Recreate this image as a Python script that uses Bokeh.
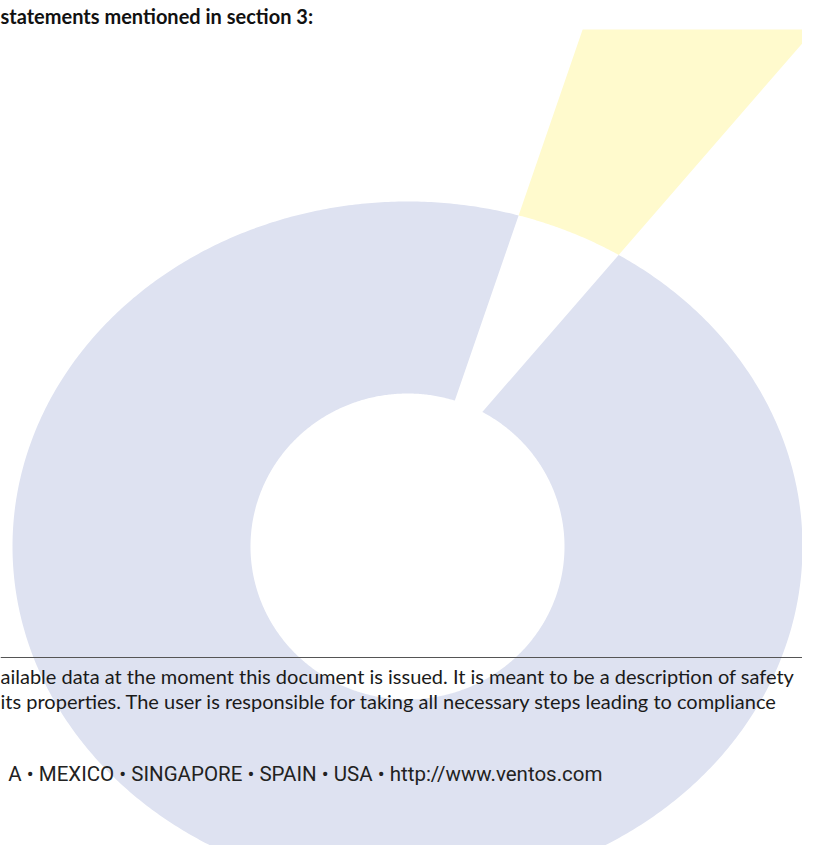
import numpy as np
from bokeh.plotting import figure
from bokeh.models import Range1d, Span, Title
from bokeh.core.properties import value
from bokeh.embed import file_html
from bokeh.resources import INLINE

# ---- data ----
slice_labels = ["Main share", "Highlighted share"]
slice_values = [93.9, 6.1]            # percent
slice_colors = ["#dee2f1", "#fffacd"]
highlight_start_deg = 19.0            # clockwise from 12 o'clock
explode_px = 78.0                     # pull of the highlighted slice
explode_dir_deg = 17.0

heading = "statements mentioned in section 3:"
body_lines = [
    "ailable data at the moment this document is issued. It is meant to be a description of safety",
    "its properties. The user is responsible for taking all necessary steps leading to compliance",
]
footer_line = "A \u2022 MEXICO \u2022 SINGAPORE \u2022 SPAIN \u2022 USA \u2022 http://www.ventos.com"

# ---- layout constants (canvas pixels) ----
W, H, TOP = 802, 845, 29
CX, CY = 407.0, 546.0
RX_OUT, RY_OUT = 395.0, 345.0
RX_IN, RY_IN = 157.0, 153.0

def d_of(theta):
    return np.array([np.sin(theta), -np.cos(theta)])

def ray_hit(A, d, rx, ry):
    u = np.array([(A[0] - CX) / rx, (A[1] - CY) / ry])
    v = np.array([d[0] / rx, d[1] / ry])
    a = v @ v
    b = 2 * (u @ v)
    c = u @ u - 1
    t = (-b + np.sqrt(b * b - 4 * a * c)) / (2 * a)
    return A + t * d

def phi_of(P, rx, ry):
    return np.arctan2((P[0] - CX) / rx, -(P[1] - CY) / ry)

def ell(phis, rx, ry):
    return CX + rx * np.sin(phis), CY - ry * np.cos(phis)

total = sum(slice_values)
thL = np.radians(highlight_start_deg)
thR = thL + 2 * np.pi * slice_values[1] / total
A = np.array([CX, CY]) + explode_px * d_of(np.radians(explode_dir_deg))
dL, dR = d_of(thL), d_of(thR)

PLo = ray_hit(A, dL, RX_OUT, RY_OUT)
PRo = ray_hit(A, dR, RX_OUT, RY_OUT)
PLi = ray_hit(A, dL, RX_IN, RY_IN)
PRi = ray_hit(A, dR, RX_IN, RY_IN)
pLo, pRo = phi_of(PLo, RX_OUT, RY_OUT), phi_of(PRo, RX_OUT, RY_OUT)
pLi, pRi = phi_of(PLi, RX_IN, RY_IN), phi_of(PRi, RX_IN, RY_IN)

# main slice: ring minus the pulled wedge
ox, oy = ell(np.linspace(pRo, pLo + 2 * np.pi, 720), RX_OUT, RY_OUT)
ix, iy = ell(np.linspace(pLi + 2 * np.pi, pRi, 720), RX_IN, RY_IN)
main_x = list(ox) + list(ix)
main_y = list(oy) + list(iy)

# highlighted slice: pulled wedge beyond the outer ring
far = 2500.0
ax_, ay_ = ell(np.linspace(pRo, pLo, 60), RX_OUT, RY_OUT)
hl_x = [PLo[0], A[0] + far * dL[0], A[0] + far * dR[0]] + list(ax_)
hl_y = [PLo[1], A[1] + far * dL[1], A[1] + far * dR[1]] + list(ay_)

p = figure(width=W, height=H, output_backend="svg", toolbar_location=None,
           x_range=Range1d(0, W), y_range=Range1d(H, TOP),
           x_axis_location=None, y_axis_location=None,
           min_border=0, min_border_top=TOP)
p.grid.visible = False
p.outline_line_color = None
p.background_fill_color = "white"
p.border_fill_color = "white"

p.title = Title(text=heading, text_font="Lato", text_font_size="20px",
                text_font_style="bold", text_color="#111111", align="left",
                vertical_align="top", standoff=0, offset=0)

p.patches(xs=[main_x, hl_x], ys=[main_y, hl_y], fill_color=slice_colors,
          line_color=None)

p.add_layout(Span(location=657, dimension="width", line_color="#555555",
                  line_width=1))

p.text(x=[0, 0], y=[675, 700], text=body_lines, text_font=value("Lato"),
       text_font_size="20px", text_color="#1a1a1a", text_align="left",
       text_baseline="middle")
p.text(x=[602], y=[773], text=[footer_line], text_font=value("Roboto"),
       text_font_size="20.5px", text_color="#222222", text_align="right",
       text_baseline="middle")

open("out.html", "w").write(file_html(p, INLINE))
